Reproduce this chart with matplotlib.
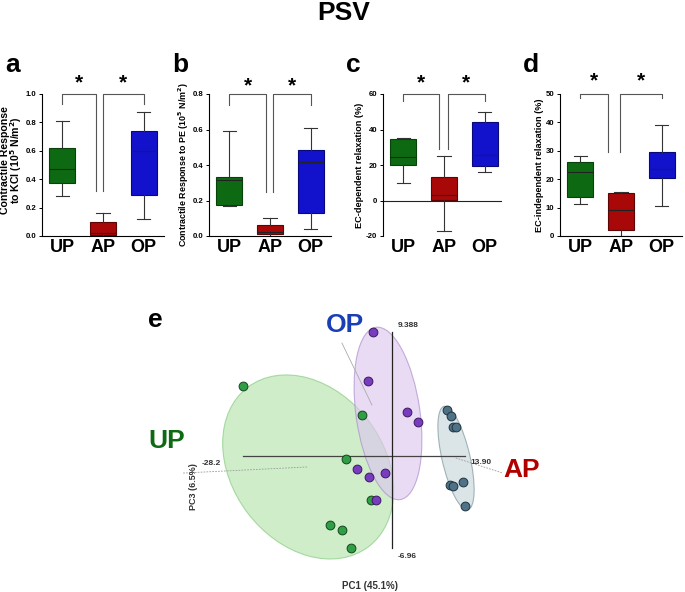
import matplotlib
matplotlib.use("Agg")
import matplotlib.pyplot as plt
from matplotlib.patches import Ellipse
from matplotlib.transforms import Affine2D

plt.rcParams['font.family'] = ['Liberation Sans', 'DejaVu Sans']
plt.rcParams['font.weight'] = 'bold'

W, H = 685, 592

groups = ["UP", "AP", "OP"]
box_colors = ["#0d6a12", "#a80808", "#1212cc"]
edge_colors = ["#06420a", "#5e0404", "#08087a"]

# box stats per panel: (whislo, q1, med, q3, whishi)
kcl = [(0.28, 0.37, 0.47, 0.62, 0.81), (0.0, 0.01, 0.02, 0.10, 0.16), (0.12, 0.29, 0.60, 0.74, 0.87)]
pe = [(0.17, 0.175, 0.315, 0.33, 0.59), (0.0, 0.01, 0.02, 0.06, 0.10), (0.04, 0.13, 0.415, 0.485, 0.61)]
ec_dep = [(10, 19.8, 24.7, 34.5, 35), (-17, 0.5, 3, 13.5, 25), (16, 19.5, 25.5, 44.5, 50)]
ec_indep = [(11.1, 13.7, 22.4, 26.0, 28.3), (0.0, 2.0, 9.0, 15.0, 15.5), (10.5, 20.5, 23.7, 29.5, 39.2)]

panels = [
    dict(letter="a", stats=kcl, ylim=(0, 1.0), ticks=[0.0, 0.2, 0.4, 0.6, 0.8, 1.0], fmt="{:.1f}",
         ylabel="Contractile Response\nto KCl (10$^\\mathbf{5}$ N/m$^\\mathbf{2}$)", ylsize=7.6,
         left=42, bracket=(1.83, 2.0), ends=(0.93, 0.32), star=1.075, zero=False),
    dict(letter="b", stats=pe, ylim=(0, 0.8), ticks=[0.0, 0.2, 0.4, 0.6, 0.8], fmt="{:.1f}",
         ylabel="Contractile Response to PE (10$^\\mathbf{5}$ N/m$^\\mathbf{2}$)", ylsize=6.4,
         left=209, bracket=(1.9, 2.07), ends=(0.74, 0.25), star=0.845, zero=False),
    dict(letter="c", stats=ec_dep, ylim=(-20, 60), ticks=[-20, 0, 20, 40, 60], fmt="{:d}",
         ylabel="EC-dependent relaxation (%)", ylsize=6.6,
         left=383, bracket=(1.88, 2.09), ends=(56, 29), star=66, zero=True),
    dict(letter="d", stats=ec_indep, ylim=(0, 50), ticks=[0, 10, 20, 30, 40, 50], fmt="{:d}",
         ylabel="EC-independent relaxation (%)", ylsize=6.6,
         left=560, bracket=(1.67, 1.97), ends=(48.5, 29.5), star=54.5, zero=False),
]

# PCA scores (PC1, PC3)
up_pc1 = [-28.2, -5.7, -8.7, -4.0, -11.8, -9.5, -7.8]
up_pc3 = [5.3, 3.1, -0.2, -3.3, -5.2, -5.6, -6.96]
op_pc1 = [-3.6, -4.6, 2.8, 4.9, -6.6, -4.4, -1.3, -3.0]
op_pc3 = [9.388, 5.7, 3.3, 2.6, -1.0, -1.6, -1.3, -3.3]
ap_pc1 = [10.4, 11.2, 11.6, 12.1, 11.0, 11.6, 13.5, 13.90]
ap_pc3 = [3.5, 3.0, 2.2, 2.2, -2.2, -2.3, -2.0, -3.8]


def px_axes(fig, left, top, right, bottom):
    return fig.add_axes([left / W, 1 - bottom / H, (right - left) / W, (bottom - top) / H])


fig = plt.figure(figsize=(W / 100, H / 100), dpi=100)
fig.text(344 / W, 1 - 13 / H, "PSV", ha="center", va="center", fontsize=19, fontweight="bold")

for p in panels:
    ax = px_axes(fig, p["left"], 94, p["left"] + 122, 236)
    stats = [dict(whislo=s[0], q1=s[1], med=s[2], q3=s[3], whishi=s[4], label=g)
             for s, g in zip(p["stats"], groups)]
    bp = ax.bxp(stats, positions=[1, 2, 3], widths=0.64, patch_artist=True, showfliers=False,
                medianprops=dict(color="#222222", lw=0.8),
                whiskerprops=dict(color="#333333", lw=0.8),
                capprops=dict(color="#333333", lw=0.8))
    for box, fc, ec in zip(bp["boxes"], box_colors, edge_colors):
        box.set_facecolor(fc)
        box.set_edgecolor(ec)
        box.set_linewidth(0.8)
    ax.set_xlim(0.5, 3.5)
    ax.set_ylim(*p["ylim"])
    ax.set_yticks(p["ticks"])
    ax.set_yticklabels([p["fmt"].format(t) for t in p["ticks"]], fontsize=5.6, fontweight="bold")
    ax.tick_params(axis="y", length=2.5, width=0.7, pad=1.5)
    ax.tick_params(axis="x", length=0, pad=2)
    ax.set_xticks([1, 2, 3])
    ax.set_xticklabels(groups, fontsize=13, fontweight="bold")
    for s in ("top", "right"):
        ax.spines[s].set_visible(False)
    ax.spines["left"].set_linewidth(0.8)
    ax.spines["bottom"].set_linewidth(0.8)
    if p["zero"]:
        ax.spines["bottom"].set_visible(False)
        ax.axhline(0, xmin=0, xmax=0.97, color="#222222", lw=0.8)
    if p["letter"] == "a":
        # two-line label placed by hand so it stays inside the figure
        fig.text(12 / W, 1 - 160 / H, p["ylabel"], rotation=90, ha="center", va="center",
                 fontsize=p["ylsize"], fontweight="bold", linespacing=0.85)
    else:
        ax.set_ylabel(p["ylabel"], fontsize=p["ylsize"], fontweight="bold", labelpad=1.5)

    top = p["ylim"][1]
    e_side, e_mid = p["ends"]
    bl, br = p["bracket"]
    lc = "#555555"
    ax.plot([1, 1, bl, bl], [e_side, top, top, e_mid], color=lc, lw=0.8, clip_on=False)
    ax.plot([br, br, 3, 3], [e_mid, top, top, e_side], color=lc, lw=0.8, clip_on=False)
    ax.text((1 + bl) / 2, p["star"], "*", ha="center", va="center", fontsize=15, fontweight="bold")
    ax.text((br + 3) / 2, p["star"], "*", ha="center", va="center", fontsize=15, fontweight="bold")
    fig.text((p["left"] - 37 if p["letter"] != "a" else 5) / W, 1 - 72 / H, p["letter"],
             ha="left", va="baseline", fontsize=19, fontweight="bold")

# panel e: PCA score plot
sx = 42.1 / 222
sy = 16.348 / 216
ax_e = fig.add_axes([0, 0, 1, 0.5])
ax_e.set_xlim(-392 * sx, (W - 392) * sx)
ax_e.set_ylim((456 - 592) * sy, (456 - 296) * sy)
ax_e.axis("off")

ellipses = [
    ((-15.9, -0.83), 100, 76, -53, "#bfe8b8", "#8fcf88", 0.75),
    ((-0.76, 3.22), 87, 32, -82, "#dcc8ee", "#a888cc", 0.65),
    ((12.14, -0.15), 53, 14, -77, "#d3dfe2", "#8ea2a8", 0.8),
]
for (cx, cy), a, b, ang, fc, ec, al in ellipses:
    el = Ellipse((0, 0), 2 * a, 2 * b, angle=ang, facecolor=fc, edgecolor=ec, lw=0.8, alpha=al)
    el.set_transform(Affine2D().scale(sx, sy).translate(cx, cy) + ax_e.transData)
    ax_e.add_patch(el)

ax_e.plot([min(up_pc1), max(ap_pc1)], [0, 0], color="#444444", lw=0.9)
ax_e.plot([0, 0], [min(up_pc3), max(op_pc3)], color="#222222", lw=0.9)

ax_e.scatter(up_pc1, up_pc3, s=40, c="#2f9e45", edgecolors="#14461e", linewidths=0.7, zorder=3)
ax_e.scatter(op_pc1, op_pc3, s=40, c="#7a3cbf", edgecolors="#3a1a60", linewidths=0.7, zorder=3)
ax_e.scatter(ap_pc1, ap_pc3, s=40, c="#4f7286", edgecolors="#1f3442", linewidths=0.7, zorder=3)

tk = dict(fontsize=6, fontweight="bold", color="#333333")
ax_e.text(1.0, 9.9, "9.388", ha="left", va="center", **tk)
ax_e.text(1.1, -7.6, "-6.96", ha="left", va="center", **tk)
ax_e.text(-32.4, -0.55, "-28.2", ha="right", va="center", **tk)
ax_e.text(14.8, -0.5, "13.90", ha="left", va="center", **tk)

dash = dict(color="#999999", lw=0.6, ls=(0, (2, 1.5)))
ax_e.plot([-39.6, -16.1], [-1.29, -0.83], **dash)
ax_e.plot([-9.5, -3.8], [8.55, 3.86], color="#aaaaaa", lw=0.6)
ax_e.plot([12.1, 21.0], [-0.15, -1.29], **dash)

ax_e.text(-42.8, 1.1, "UP", ha="center", va="center", fontsize=19, fontweight="bold", color="#0d6a12")
ax_e.text(-8.9, 9.9, "OP", ha="center", va="center", fontsize=19, fontweight="bold", color="#1a3fb5")
ax_e.text(24.6, -1.06, "AP", ha="center", va="center", fontsize=19, fontweight="bold", color="#b00000")

ax_e.text(-37.7, -2.35, "PC3 (6.5%)", rotation=90, ha="center", va="center", fontsize=6.5,
          fontweight="bold", color="#333333")
ax_e.text(-4.2, -9.84, "PC1 (45.1%)", ha="center", va="center", fontsize=7, fontweight="bold",
          color="#333333")
fig.text(148 / W, 1 - 327 / H, "e", ha="left", va="baseline", fontsize=19, fontweight="bold")

fig.savefig("out.png", dpi=100)
